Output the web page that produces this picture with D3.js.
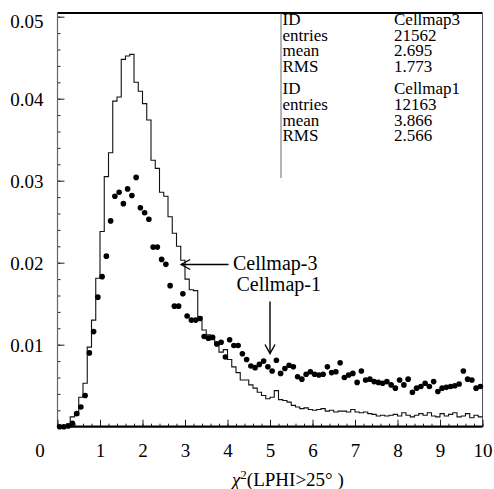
<!DOCTYPE html>
<html>
<head>
<meta charset="utf-8">
<script src="https://cdn.jsdelivr.net/npm/d3@7/dist/d3.min.js"></script>
<style>
  html, body { margin: 0; padding: 0; background: #fff; }
  svg { display: block; }
  text { font-family: "Liberation Serif", "Times New Roman", serif; fill: #000; }
</style>
</head>
<body>
<svg id="chart" width="494" height="489"></svg>
<script>
// ---------------- data ----------------
const binWidth = 0.1;
// Cellmap-3 histogram (bins 0.0-0.1 ... 9.9-10.0)
const cellmap3Values = [
  0, 0, 0, 0.0012, 0.0014, 0.0036, 0.0053, 0.0097, 0.0130, 0.0181,
  0.0238, 0.0305, 0.0334, 0.0397, 0.0402, 0.0448, 0.0452, 0.0454, 0.0420, 0.0409,
  0.0394, 0.0374, 0.0325, 0.0315, 0.0286, 0.0281, 0.0256, 0.0236, 0.0220, 0.0203,
  0.0180, 0.0167, 0.0166, 0.0134, 0.0118, 0.0112, 0.0106, 0.0100, 0.0091, 0.0094,
  0.0082, 0.0073, 0.0066, 0.0057, 0.0057, 0.0051, 0.0047, 0.0042, 0.0038, 0.0034,
  0.0036, 0.0044, 0.0033, 0.0032, 0.0030, 0.0026, 0.0024, 0.0022, 0.0023, 0.0021,
  0.0020, 0.0021, 0.0022, 0.0019, 0.0020, 0.0018, 0.0019, 0.0019, 0.0018, 0.0021,
  0.0018, 0.0017, 0.0018, 0.0016, 0.0015, 0.0013, 0.0014, 0.0013, 0.0014, 0.0015,
  0.0013, 0.0017, 0.0014, 0.0012, 0.0014, 0.0016, 0.0014, 0.0017, 0.0013, 0.0012,
  0.0016, 0.0013, 0.0015, 0.0017, 0.0012, 0.0013, 0.0016, 0.0011, 0.0014, 0.0012
];
// Cellmap-1 points (bin centres 0.05 ... 9.95)
const cellmap1Values = [
  0, 0, 0.0001, 0.0004, 0.0016, 0.0024, 0.0038, 0.0090, 0.0116, 0.0158,
  0.0183, 0.0208, 0.0251, 0.0281, 0.0286, 0.0272, 0.0290, 0.0282, 0.0304, 0.0267,
  0.0261, 0.0253, 0.0219, 0.0219, 0.0204, 0.0198, 0.0172, 0.0147, 0.0147, 0.0162,
  0.0135, 0.0130, 0.0130, 0.0132, 0.0110, 0.0108, 0.0109, 0.0101, 0.0103, 0.0085,
  0.0106, 0.0099, 0.0099, 0.0089, 0.0082, 0.0074, 0.0072, 0.0076, 0.0080, 0.0073,
  0.0068, 0.0081, 0.0065, 0.0071, 0.0075, 0.0073, 0.0061, 0.0058, 0.0064, 0.0067,
  0.0064, 0.0063, 0.0064, 0.0073, 0.0066, 0.0067, 0.0078, 0.0060, 0.0063, 0.0065,
  0.0054, 0.0068, 0.0057, 0.0058, 0.0055, 0.0054, 0.0053, 0.0055, 0.0051, 0.0047,
  0.0057, 0.0051, 0.0058, 0.0042, 0.0047, 0.0049, 0.0053, 0.0049, 0.0055, 0.0043,
  0.0047, 0.0048, 0.0049, 0.0050, 0.0052, 0.0068, 0.0058, 0.0057, 0.0047, 0.0049
];
const xTickValues = [0, 1, 2, 3, 4, 5, 6, 7, 8, 9, 10];
const yTickValues = [0.01, 0.02, 0.03, 0.04, 0.05];
const yTickLabels = ["0.01", "0.02", "0.03", "0.04", "0.05"];
const statLabels = ["ID", "entries", "mean", "RMS"];
const cellmap3Stats = ["Cellmap3", "21562", "2.695", "1.773"];
const cellmap1Stats = ["Cellmap1", "12163", "3.866", "2.566"];
const seriesLabels = ["Cellmap-3", "Cellmap-1"];

// ---------------- layout ----------------
const svg = d3.select("#chart");
const pLeft = 57.5, pRight = 482.5, pTop = 13, pBottom = 426.7;
const x = d3.scaleLinear().domain([0, 10]).range([pLeft, pRight]);
const y = d3.scaleLinear().domain([0, 0.01]).range([pBottom, pBottom - 82]);

const serif = '"Liberation Serif", "Times New Roman", serif';

// frame: top thick, right thin
svg.append("line").attr("x1", pLeft).attr("x2", pRight).attr("y1", pTop).attr("y2", pTop)
  .attr("stroke", "#000").attr("stroke-width", 2);
svg.append("line").attr("x1", pRight).attr("x2", pRight).attr("y1", pTop).attr("y2", pBottom)
  .attr("stroke", "#555").attr("stroke-width", 1);

// y axis (ticks inside)
const yMinor = d3.range(1, 26).map(i => i * 0.002);
const yAxisMinor = d3.axisRight(y).tickValues(yMinor).tickSize(3).tickFormat("");
const gyMinor = svg.append("g").attr("transform", `translate(${pLeft},0)`).call(yAxisMinor);
gyMinor.select(".domain").remove();
gyMinor.selectAll("line").attr("stroke", "#222");
const yAxisMajor = d3.axisRight(y).tickValues(yTickValues).tickSize(7)
  .tickFormat((d, i) => yTickLabels[i]);
const gy = svg.append("g").attr("transform", `translate(${pLeft},0)`).call(yAxisMajor);
gy.select(".domain").remove();
gy.selectAll("line").attr("stroke", "#222");
gy.selectAll("text").attr("x", -14).attr("text-anchor", "end")
  .style("font-family", serif).style("font-size", "19px")
  .attr("dy", (d) => d === 0.05 ? "0.55em" : "0.35em");
svg.append("line").attr("x1", pLeft).attr("x2", pLeft).attr("y1", pTop - 1).attr("y2", pBottom)
  .attr("stroke", "#666").attr("stroke-width", 1.2);

// x axis (ticks inside, pointing up)
const xMinor = d3.range(0, 51).map(i => i * 0.2);
const xAxisMinor = d3.axisTop(x).tickValues(xMinor).tickSize(3).tickFormat("");
const gxMinor = svg.append("g").attr("transform", `translate(0,${pBottom})`).call(xAxisMinor);
gxMinor.select(".domain").remove();
gxMinor.selectAll("line").attr("stroke", "#222");
const xAxisMajor = d3.axisTop(x).tickValues(xTickValues).tickSize(7).tickFormat(d3.format("d"));
const gx = svg.append("g").attr("transform", `translate(0,${pBottom})`).call(xAxisMajor);
gx.select(".domain").remove();
gx.selectAll("line").attr("stroke", "#222");
gx.selectAll("text").attr("y", 30).attr("dy", 0)
  .style("font-family", serif).style("font-size", "19px")
  .attr("transform", d => d === 0 ? "translate(-18,0)" : null);
svg.append("line").attr("x1", pLeft).attr("x2", pRight).attr("y1", pBottom).attr("y2", pBottom)
  .attr("stroke", "#000").attr("stroke-width", 2.2);

// histogram Cellmap-3 as steps
const stepPts = cellmap3Values.map((v, i) => [i * binWidth, v]);
stepPts.push([cellmap3Values.length * binWidth, cellmap3Values[cellmap3Values.length - 1]]);
const stepLine = d3.line().x(d => x(d[0])).y(d => y(d[1])).curve(d3.curveStepAfter);
svg.append("path").datum(stepPts).attr("d", stepLine)
  .attr("fill", "none").attr("stroke", "#111").attr("stroke-width", 1.1);

// points Cellmap-1
svg.append("g").selectAll("circle").data(cellmap1Values).join("circle")
  .attr("cx", (d, i) => x((i + 0.5) * binWidth))
  .attr("cy", d => y(d))
  .attr("r", 2.8)
  .attr("fill", "#000");

// stats text
const statsG = svg.append("g").style("font-family", serif).style("font-size", "17px");
const rowY0 = 25, rowStep = 15.6, blockGap = 69.3;
[cellmap3Stats, cellmap1Stats].forEach((stats, b) => {
  statLabels.forEach((lab, i) => {
    statsG.append("text").attr("x", 282.5).attr("y", rowY0 + b * blockGap + i * rowStep).text(lab);
    statsG.append("text").attr("x", 394).attr("y", rowY0 + b * blockGap + i * rowStep).text(stats[i]);
  });
});
svg.append("line").attr("x1", 281).attr("x2", 281).attr("y1", pTop).attr("y2", 178)
  .attr("stroke", "#444").attr("stroke-width", 0.8);

// annotations
const ann = svg.append("g").style("font-family", serif).style("font-size", "20px");
ann.append("text").attr("x", 233).attr("y", 269.5).text(seriesLabels[0]);
ann.append("text").attr("x", 236.5).attr("y", 290.5).text(seriesLabels[1]);
// horizontal arrow to Cellmap-3 histogram
const ax1 = x(2.91), ay1 = 264.5;
ann.append("line").attr("x1", 228.5).attr("x2", ax1).attr("y1", ay1).attr("y2", ay1)
  .attr("stroke", "#000").attr("stroke-width", 1.4);
ann.append("path").attr("d", `M${ax1 + 9},${ay1 - 5} L${ax1},${ay1} L${ax1 + 9},${ay1 + 5}`)
  .attr("fill", "none").attr("stroke", "#000").attr("stroke-width", 1.4);
// vertical arrow to Cellmap-1 points
const ax2 = x(5.0), ay2 = 353.5;
ann.append("line").attr("x1", ax2).attr("x2", ax2).attr("y1", 301.5).attr("y2", ay2)
  .attr("stroke", "#000").attr("stroke-width", 1.4);
ann.append("path").attr("d", `M${ax2 - 5},${ay2 - 9} L${ax2},${ay2} L${ax2 + 5},${ay2 - 9}`)
  .attr("fill", "none").attr("stroke", "#000").attr("stroke-width", 1.4);

// x-axis title
const title = svg.append("text").attr("x", 232).attr("y", 486)
  .style("font-family", serif).style("font-size", "19px");
title.append("tspan").style("font-style", "italic").text("χ");
title.append("tspan").attr("dy", -7).style("font-size", "13px").text("2");
title.append("tspan").attr("dy", 7).text("(LPHI>25° )");
</script>
</body>
</html>
